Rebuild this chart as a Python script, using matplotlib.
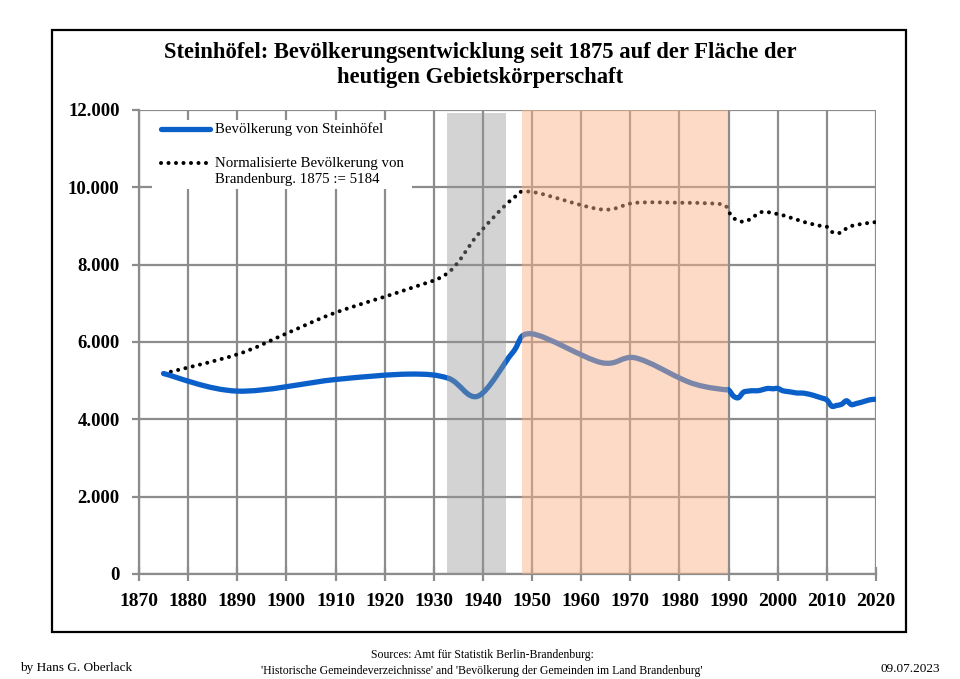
import matplotlib
matplotlib.use("Agg")
import matplotlib.pyplot as plt
from matplotlib.path import Path
from matplotlib.patches import PathPatch, Rectangle
from matplotlib.lines import Line2D
from matplotlib.ticker import FuncFormatter

# ---------------- data ----------------
stein_years = [1875, 1890, 1910, 1925, 1933, 1939, 1946, 1950, 1964, 1971, 1981, 1985, 1989,
               1990, 1991, 1992, 1993, 1994, 1995, 1996, 1997, 1998, 1999, 2000,
               2001, 2002, 2003, 2004, 2005, 2006, 2007, 2008, 2009, 2010,
               2011, 2012, 2013, 2014, 2015, 2016, 2017, 2018, 2019, 2020]
stein_pop = [5184, 4730, 5030, 5170, 5060, 4600, 5720, 6210, 5470, 5590, 5010, 4850, 4770,
             4760, 4600, 4560, 4700, 4730, 4740, 4740, 4770, 4800, 4790, 4800,
             4740, 4720, 4700, 4680, 4680, 4660, 4630, 4590, 4550, 4500,
             4340, 4360, 4390, 4480, 4380, 4410, 4440, 4480, 4510, 4520]

bb_years = [1875, 1890, 1900, 1910, 1925, 1933, 1939, 1946, 1950, 1964, 1971, 1981, 1985, 1989,
            1990, 1991, 1992, 1993, 1994, 1995, 1996, 1997, 1998, 1999, 2000,
            2001, 2002, 2003, 2004, 2005, 2006, 2007, 2008, 2009, 2010,
            2011, 2012, 2013, 2014, 2015, 2016, 2017, 2018, 2019, 2020]
bb_pop = [5184, 5680, 6220, 6760, 7380, 7800, 8780, 9700, 9880, 9430, 9600, 9600, 9590, 9550,
          9370, 9210, 9140, 9110, 9150, 9230, 9320, 9370, 9360, 9330, 9310,
          9280, 9240, 9200, 9160, 9120, 9080, 9050, 9020, 9000, 8980,
          8850, 8810, 8840, 8940, 9000, 9030, 9050, 9070, 9090, 9100]

xticks = list(range(1870, 2021, 10))
yticks = list(range(0, 12001, 2000))
nazi_period = (1933, 1945)
gdr_period = (1948, 1990)

title = "Steinhöfel: Bevölkerungsentwicklung seit 1875 auf der Fläche der\nheutigen Gebietskörperschaft"
label_stein = "Bevölkerung von Steinhöfel"
label_bb = "Normalisierte Bevölkerung von\nBrandenburg. 1875 := 5184"

# ---------------- style ----------------
plt.rcParams['font.family'] = ['Liberation Serif', 'DejaVu Serif']
GRID = '#8c8c8c'
BLUE = '#0a5fc8'


def smooth_path(xs, ys):
    """Excel-like smoothed line (cubic Bezier through every data point)."""
    n = len(xs)
    verts = [(xs[0], ys[0])]
    codes = [Path.MOVETO]
    for i in range(n - 1):
        a = i - 1 if i > 0 else i
        d = i + 2 if i + 2 < n else i + 1
        c1 = (xs[i] + (xs[i + 1] - xs[a]) / 6.0, ys[i] + (ys[i + 1] - ys[a]) / 6.0)
        c2 = (xs[i + 1] - (xs[d] - xs[i]) / 6.0, ys[i + 1] - (ys[d] - ys[i]) / 6.0)
        verts += [c1, c2, (xs[i + 1], ys[i + 1])]
        codes += [Path.CURVE4] * 3
    return Path(verts, codes)


fig = plt.figure(figsize=(9.6, 6.79), dpi=100)
fig.patch.set_facecolor('white')

# outer frame
fig.patches.append(Rectangle((52 / 960, 1 - 632 / 679), (906 - 52) / 960, (632 - 30) / 679,
                             transform=fig.transFigure, fill=False, edgecolor='black',
                             linewidth=1.6, zorder=0))

ax = fig.add_axes([139 / 960, 1 - 574 / 679, (876 - 139) / 960, (574 - 110) / 679])
ax.set_xlim(1870, 2020)
ax.set_ylim(0, 12000)

ax.set_xticks(xticks)
ax.set_yticks(yticks)
ax.grid(True, color=GRID, linewidth=1.6, zorder=1)
ax.set_axisbelow(True)
for s in ['top', 'right']:
    ax.spines[s].set_visible(False)
for s in ['left', 'bottom']:
    ax.spines[s].set_color(GRID)
    ax.spines[s].set_linewidth(1.6)
ax.tick_params(axis='x', direction='inout', length=10, width=1.6, color=GRID, pad=9,
               labelsize=14)
ax.tick_params(axis='y', direction='out', length=5, width=1.6, color=GRID, pad=9,
               labelsize=13.5)
ax.yaxis.set_major_formatter(FuncFormatter(lambda v, p: f"{v:,.0f}".replace(',', '.')))
for lab in ax.get_xticklabels() + ax.get_yticklabels():
    lab.set_fontweight('bold')

# series
ax.add_patch(PathPatch(smooth_path(bb_years, bb_pop), fill=False, edgecolor='black',
                       linewidth=2.9, linestyle=(0, (0.01, 1.85)), capstyle='round',
                       zorder=3))
ax.add_patch(PathPatch(smooth_path(stein_years, stein_pop), fill=False, edgecolor=BLUE,
                       linewidth=3.8, capstyle='round', joinstyle='round', zorder=4))

# shaded periods (drawn on top, translucent)
ax.axvspan(nazi_period[0] - 0.3, nazi_period[1] - 0.4, ymin=0, ymax=11925 / 12000,
           facecolor=(150 / 255, 150 / 255, 150 / 255),
           alpha=0.42, edgecolor='none', zorder=5)
ax.axvspan(gdr_period[0], gdr_period[1] - 0.2, ymin=0, ymax=1,
           facecolor=(250 / 255, 178 / 255, 135 / 255),
           alpha=0.48, edgecolor='none', zorder=5)

# legend (manual, matching reference layout)
def ax_x(px):
    return (px - 139) / (876 - 139)


def ax_y(py):
    return (574 - py) / (574 - 110)


ax.add_patch(Rectangle((ax_x(152), ax_y(189)), ax_x(412) - ax_x(152), ax_y(120) - ax_y(189),
                       transform=ax.transAxes, facecolor='white', edgecolor='none', zorder=6))
ax.add_line(Line2D([ax_x(161), ax_x(210)], [ax_y(129), ax_y(129)], transform=ax.transAxes,
                   color=BLUE, linewidth=3.8, solid_capstyle='round', zorder=7))
ax.add_line(Line2D([ax_x(161), ax_x(208)], [ax_y(163), ax_y(163)], transform=ax.transAxes,
                   color='black', linewidth=2.9, linestyle=(0, (0.01, 1.85)),
                   dash_capstyle='round', zorder=7))
ax.text(ax_x(215), ax_y(129), label_stein, transform=ax.transAxes, fontsize=10.7,
        va='center', ha='left', zorder=8)
ax.text(ax_x(215), ax_y(171.5), label_bb, transform=ax.transAxes, fontsize=10.7,
        va='center', ha='left', linespacing=1.25, zorder=8)

# title
fig.text(480 / 960, 1 - 65 / 679, title, ha='center', va='center', fontsize=16.3,
         fontweight='bold', linespacing=1.2)

# footer
fig.text(20 / 960, 1 - 668 / 679, "by Hans G. Oberlack", ha='left', va='center', fontsize=9.5)
fig.text(940 / 960, 1 - 669 / 679, "09.07.2023", ha='right', va='center', fontsize=9.5)
fig.text(482 / 960, 1 - 655 / 679, "Sources: Amt für Statistik Berlin-Brandenburg:",
         ha='center', va='center', fontsize=8.5)
fig.text(482 / 960, 1 - 671 / 679,
         "'Historische Gemeindeverzeichnisse' and 'Bevölkerung der Gemeinden im Land Brandenburg'",
         ha='center', va='center', fontsize=8.5)

fig.savefig("out.png", dpi=100, facecolor='white')
